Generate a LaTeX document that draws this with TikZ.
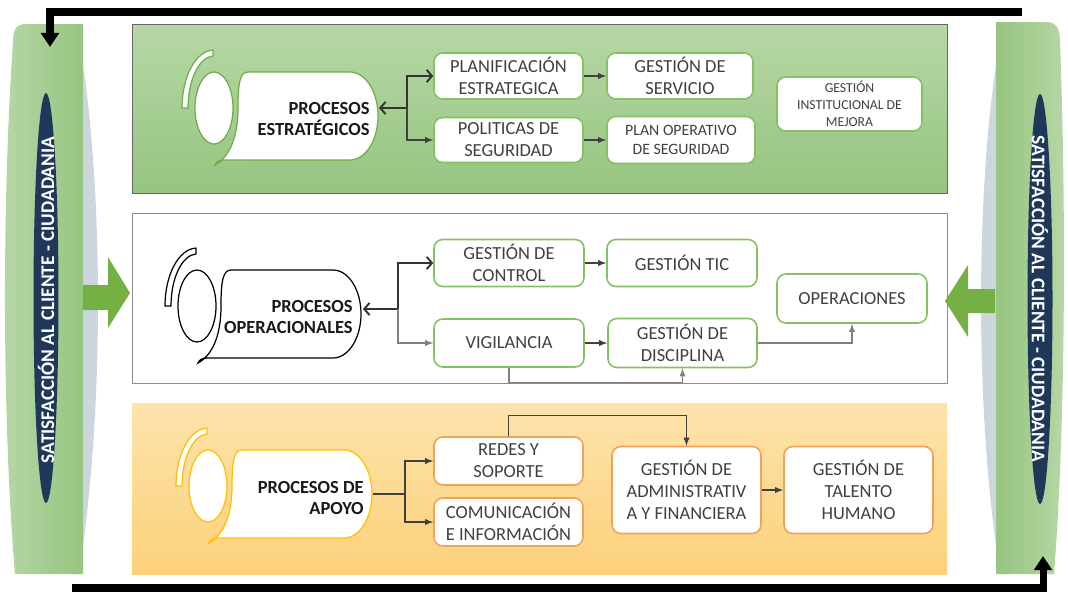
\documentclass[tikz,border=0pt]{standalone}
\usepackage{fontspec}
\setmainfont{Carlito}
\usetikzlibrary{arrows,arrows.meta,positioning}

\definecolor{verdeA}{RGB}{182,215,166}
\definecolor{verdeB}{RGB}{150,197,128}
\definecolor{verdeBorde}{RGB}{132,193,100}
\definecolor{verdeRollo}{RGB}{112,173,71}
\definecolor{naranjaA}{RGB}{253,227,172}
\definecolor{naranjaB}{RGB}{252,209,122}
\definecolor{naranjaBorde}{RGB}{243,160,90}
\definecolor{oro}{RGB}{255,192,0}
\definecolor{marino}{RGB}{31,56,90}
\definecolor{grisazul}{RGB}{204,214,221}
\definecolor{flecha}{RGB}{116,176,68}
\definecolor{texto}{RGB}{64,64,64}

\tikzset{
	caja/.style={draw=verdeBorde,fill=white,rounded corners=5pt,line width=0.9pt,inner sep=0pt,align=center,text=texto,font=\fontsize{10.5}{12.5}\selectfont},
	cajan/.style={caja,draw=naranjaBorde},
	titulo/.style={anchor=east,inner sep=0pt,align=right,text=black!90,font=\bfseries\fontsize{10.5}{12.5}\selectfont},
	lado/.style={text=white,inner sep=0pt,font=\bfseries\fontsize{11}{13}\selectfont},
	con/.style={-latex,draw=texto,line width=0.6pt},
	grueso/.style={{Straight Barb[length=3pt,width=7pt]}-{Straight Barb[length=3pt,width=7pt]},draw=black!80,line width=1.1pt},
	negra/.style={line width=4pt,-{Triangle[length=8pt,width=10pt]}},
}

\begin{document}
\begin{tikzpicture}[x=0.02cm,y=-0.02cm]
	\useasboundingbox (0,0) rectangle (1068,592);

	\shade[left color=verdeA,right color=verdeB] (83,24) -- (26,24) .. controls (16,24) and (13,30) .. (13,42) .. controls (2,200) and (2,420) .. (15,574) -- (83,574) -- cycle;
	\fill[grisazul] (83,65) .. controls (103,200) and (103,400) .. (83,545) -- cycle;
	\shade[left color=verdeB,right color=verdeA] (996,22) -- (1046,22) .. controls (1056,22) and (1060,28) .. (1060,42) .. controls (1066,200) and (1066,420) .. (1054,574) -- (996,574) -- cycle;
	\fill[grisazul] (996,65) .. controls (976,200) and (976,400) .. (996,545) -- cycle;

	\fill[marino] (46,298) ellipse [x radius=0.25cm,y radius=4.1cm];
	\fill[marino] (1040,299) ellipse [x radius=0.25cm,y radius=4.1cm];
	\node[lado,rotate=90] (satizq) at (46,300) {SATISFACCIÓN AL CLIENTE - CIUDADANIA};
	\node[lado,rotate=-90] (satder) at (1040,299) {SATISFACCIÓN AL CLIENTE - CIUDADANIA};

	\shade[top color=verdeA,bottom color=verdeB,draw=black!60] (132,24) rectangle (947,193);
	\draw[black!45,fill=white] (132,213) rectangle (947,383);
	\shade[top color=naranjaA,bottom color=naranjaB] (132,403) rectangle (947,574);

	\fill[flecha] (83,285) -- (108,285) -- (108,257) -- (130,293) -- (108,328) -- (108,310) -- (83,310) -- cycle;
	\fill[flecha] (995,289) -- (968,289) -- (968,265) -- (945,301) -- (968,337) -- (968,313) -- (995,313) -- cycle;

	\coordinate (ini1) at (1022,12);
	\coordinate (fin1) at (50,47);
	\coordinate (ini2) at (72,588);
	\coordinate (fin2) at (1043,556);
	\draw[negra] (ini1) -| (fin1);
	\draw[negra] (ini2) -| (fin2);

	\foreach \cx/\cy/\col in {214/108/verdeRollo,197/306/black,208/486/oro}{
		\begin{scope}[shift={(\cx,\cy)}]
			\draw[\col,fill=white,line width=0.7pt] (-32,0) arc[start angle=180,end angle=92,x radius=0.64cm,y radius=1.16cm] -- (-0.9,-52) arc[start angle=92,end angle=180,x radius=0.52cm,y radius=1.04cm] -- cycle;
			\draw[\col,fill=white,line width=0.7pt] (34,-36) -- (136,-36) arc[start angle=90,end angle=-90,x radius=0.56cm,y radius=0.88cm] -- (10,52) .. controls (5,52) and (2,54) .. (1,57) .. controls (14,50) and (24,32) .. (24,0) .. controls (24,-25) and (26,-36) .. (34,-36) -- cycle;
			\draw[\col,fill=white,line width=0.7pt] (0,0) ellipse [x radius=0.38cm,y radius=0.72cm];
		\end{scope}
	}

	\node[titulo] (pe) at (370,119) {PROCESOS\\ESTRATÉGICOS};
	\node[titulo] (po) at (353,317) {PROCESOS\\OPERACIONALES};
	\node[titulo] (pa) at (364,498) {PROCESOS DE\\APOYO};

	\node[caja,minimum width=2.98cm,minimum height=0.92cm] (plan) at (508.5,76) {PLANIFICACIÓN\\ESTRATEGICA};
	\node[caja,minimum width=2.92cm,minimum height=0.92cm] (serv) at (680,76) {GESTIÓN DE\\SERVICIO};
	\node[caja,minimum width=2.98cm,minimum height=0.9cm] (pol) at (508.5,140) {POLITICAS DE\\SEGURIDAD};
	\node[caja,minimum width=2.96cm,minimum height=0.94cm,font=\fontsize{9}{10.8}\selectfont] (poa) at (681,140) {PLAN OPERATIVO\\DE SEGURIDAD};
	\node[caja,minimum width=2.9cm,minimum height=1.08cm,font=\fontsize{7.8}{9.6}\selectfont] (mej) at (849.5,104) {GESTIÓN\\INSTITUCIONAL DE\\MEJORA};

	\node[caja,minimum width=3cm,minimum height=0.94cm] (ctrl) at (509,263) {GESTIÓN DE\\CONTROL};
	\node[caja,minimum width=3cm,minimum height=0.94cm] (tic) at (682,263) {GESTIÓN TIC};
	\node[caja,minimum width=3cm,minimum height=0.96cm] (vig) at (509,343) {VIGILANCIA};
	\node[caja,minimum width=2.98cm,minimum height=0.98cm] (disc) at (682.5,343) {GESTIÓN DE\\DISCIPLINA};
	\node[caja,minimum width=3cm,minimum height=0.98cm] (oper) at (852,298.5) {OPERACIONES};

	\node[cajan,minimum width=2.98cm,minimum height=0.96cm] (redes) at (508.5,461) {REDES Y\\SOPORTE};
	\node[cajan,minimum width=2.98cm,minimum height=0.96cm] (com) at (508.5,522) {COMUNICACIÓN\\E INFORMACIÓN};
	\node[cajan,minimum width=2.98cm,minimum height=1.74cm] (adm) at (686.5,490) {GESTIÓN DE\\ADMINISTRATIV\\A Y FINANCIERA};
	\node[cajan,minimum width=2.98cm,minimum height=1.74cm] (tal) at (858.5,490) {GESTIÓN DE\\TALENTO\\HUMANO};

	\coordinate (e1) at (379,108);
	\coordinate (j1) at (407,108);
	\coordinate (e2) at (363,309);
	\coordinate (j2) at (398,309);
	\coordinate (e3) at (373,494);
	\coordinate (j3) at (405,494);

	\draw[grueso] (e1) -- (j1) |- (plan);
	\draw[con] (j1) |- (pol);
	\draw[con] (plan) -- (serv);
	\draw[con] (pol) -- (poa);

	\draw[grueso] (e2) -- (j2) |- (ctrl);
	\draw[con,draw=gray] (j2) |- (vig);
	\draw[con] (ctrl) -- (tic);
	\draw[con] (vig) -- (disc);
	\draw[con,draw=gray] (disc.east) -| (oper.south);
	\draw[con,draw=gray] (vig.south) -- ++(0,15) -| (disc.south);

	\draw[draw=texto,line width=0.6pt] (e3) -- (j3);
	\draw[con] (j3) |- (redes);
	\draw[con] (j3) |- (com);
	\draw[con] (redes.north) -- ++(0,-21) -| (adm.north);
	\draw[con] (adm) -- (tal);
\end{tikzpicture}
\end{document}
